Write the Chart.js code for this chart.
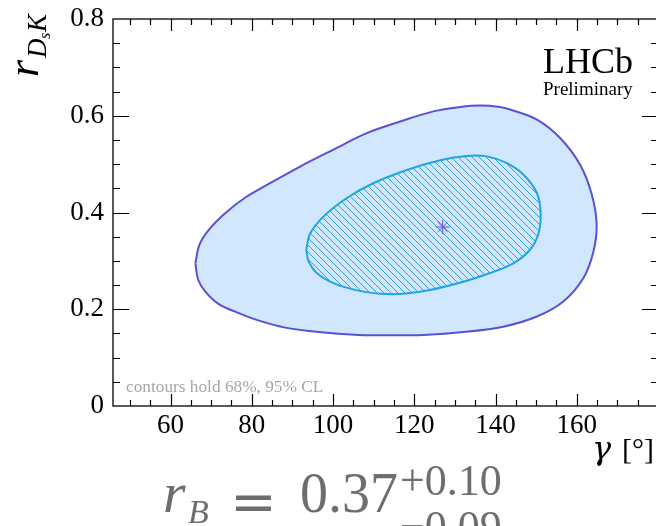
<!DOCTYPE html>
<html>
<head>
<meta charset="utf-8">
<script src="https://cdn.jsdelivr.net/npm/chart.js@4.4.1/dist/chart.umd.min.js"></script>
<style>
  html, body { margin: 0; padding: 0; background: #fff; overflow: hidden; }
  #wrap { position: relative; width: 656px; height: 526px; overflow: hidden; }
  #wrap canvas { display: block; }
</style>
</head>
<body>
<div id="wrap"><canvas id="contourChart" width="672" height="526" style="width:672px;height:526px"></canvas></div>
<script>
// 95% CL contour (gamma in degrees, r_{DsK})
const outerGamma = [66.1, 67.1, 69.4, 73.5, 78.4, 83.3, 91.9, 100.1, 108.3, 116.5, 124.7, 131.3, 136.2,
  141.1, 143.6, 150.2, 155.9, 160.8, 163.7, 164.9, 164.1, 161.6, 156.7, 150.2, 141.9, 132.1, 122.3,
  114.1, 106.3, 96.4, 88.2, 80.8, 76.2, 71.8, 68.5, 66.8, 66.1];
const outerR = [0.295, 0.333, 0.364, 0.399, 0.431, 0.455, 0.495, 0.530, 0.564, 0.588, 0.609, 0.618, 0.621,
  0.618, 0.613, 0.592, 0.554, 0.499, 0.437, 0.375, 0.319, 0.264, 0.216, 0.185, 0.164, 0.153, 0.147,
  0.146, 0.147, 0.153, 0.162, 0.179, 0.194, 0.211, 0.237, 0.261, 0.295];

// 68% CL contour
const innerGamma = [93.4, 94.4, 97.7, 103.4, 110.0, 118.2, 126.4, 132.9, 137.9, 142.8, 146.9, 150.2, 151.1,
  150.6, 148.5, 144.4, 138.7, 132.1, 123.9, 117.3, 111.6, 105.9, 100.1, 96.0, 94.0, 93.4];
const innerR = [0.323, 0.357, 0.392, 0.430, 0.461, 0.488, 0.508, 0.517, 0.516, 0.502, 0.478, 0.440, 0.399,
  0.357, 0.323, 0.295, 0.275, 0.257, 0.240, 0.232, 0.232, 0.239, 0.254, 0.275, 0.299, 0.323];

// best fit point
const bestGamma = [127];
const bestR = [0.37];

const xMin = 45.83, xMax = 180;
const yMin = 0, yMax = 0.8;

const toPoints = (xs, ys) => xs.map((x, i) => ({ x, y: ys[i] }));

// =====================
// Hatch pattern for the 68% region
// =====================
const makeHatch = (size, bg, fg) => {
  const c = document.createElement('canvas');
  c.width = size;
  c.height = size;
  const g = c.getContext('2d');
  g.fillStyle = bg;
  g.fillRect(0, 0, size, size);
  g.strokeStyle = fg;
  g.lineWidth = 1;
  for (const k of [-size, 0, size]) {
    g.beginPath();
    g.moveTo(k, 0);
    g.lineTo(k + size, size);
    g.stroke();
  }
  return g.createPattern(c, 'repeat');
};

const fillBlue = '#d1e7fd';
const hatch = makeHatch(7, fillBlue, '#2ba2db');

// =====================
// Frame, inward ticks and text
// =====================
const frameTicks = {
  id: 'frameTicks',
  afterDraw(chart) {
    const { ctx, chartArea: a, scales: { x, y } } = chart;
    ctx.save();
    ctx.strokeStyle = '#000';
    ctx.lineWidth = 1.3;
    ctx.strokeRect(a.left, a.top, a.right - a.left, a.bottom - a.top);

    ctx.lineWidth = 1.2;
    ctx.beginPath();
    for (let v = 50; v <= 180; v += 5) {
      const px = Math.round(x.getPixelForValue(v)) + 0.5;
      const len = v % 20 === 0 ? 12 : 6;
      ctx.moveTo(px, a.bottom); ctx.lineTo(px, a.bottom - len);
      ctx.moveTo(px, a.top); ctx.lineTo(px, a.top + len);
    }
    for (let i = 1; i < 16; i++) {
      const v = i * 0.05;
      const py = Math.round(y.getPixelForValue(v)) + 0.5;
      const len = i % 4 === 0 ? 16 : 7;
      ctx.moveTo(a.left, py); ctx.lineTo(a.left + len, py);
      ctx.moveTo(a.right, py); ctx.lineTo(a.right - len, py);
    }
    ctx.stroke();

    // experiment label
    ctx.fillStyle = '#000';
    ctx.textBaseline = 'alphabetic';
    ctx.textAlign = 'left';
    ctx.font = '36px "Liberation Serif"';
    ctx.fillText('LHCb', 543, 73);
    ctx.font = '19px "Liberation Serif"';
    ctx.fillText('Preliminary', 543, 95);

    // note in the lower left corner
    ctx.fillStyle = '#a6a6a6';
    ctx.font = '17.3px "Liberation Serif"';
    ctx.fillText('contours hold 68%, 95% CL', 126, 392);

    // x axis title
    ctx.fillStyle = '#000';
    ctx.font = 'italic 32px "DejaVu Serif"';
    ctx.fillText('\u03b3', 592, 459);
    ctx.font = '30px "Liberation Serif"';
    ctx.fillText('[\u00b0]', 622, 459);

    // y axis title, rotated
    ctx.save();
    ctx.translate(38, 77);
    ctx.rotate(-Math.PI / 2);
    ctx.font = 'italic 44px "Liberation Serif"';
    ctx.fillText('r', 0, 0);
    ctx.font = 'italic 27px "Liberation Serif"';
    ctx.fillText('D', 19, 8);
    ctx.font = 'italic 16px "Liberation Serif"';
    ctx.fillText('s', 38, 12);
    ctx.font = 'italic 27px "Liberation Serif"';
    ctx.fillText('K', 45, 8);
    ctx.restore();

    // result underneath the plot
    ctx.fillStyle = '#6e6e6e';
    ctx.font = 'italic 58px "Liberation Serif"';
    ctx.fillText('r', 163, 512);
    ctx.font = 'italic 34px "Liberation Serif"';
    ctx.fillText('B', 188, 523);
    ctx.font = '56px "DejaVu Serif"';
    ctx.fillText('=', 230, 521);
    ctx.font = '56px "Liberation Serif"';
    ctx.fillText('0.37', 300, 512);
    ctx.font = '44px "Liberation Serif"';
    ctx.fillText('+0.10', 400, 495);
    ctx.fillText('\u22120.09', 400, 541);
    ctx.restore();
  }
};

new Chart(document.getElementById('contourChart'), {
  type: 'line',
  data: {
    datasets: [
      {
        label: 'best fit',
        data: toPoints(bestGamma, bestR),
        showLine: false,
        pointStyle: 'star',
        pointRadius: 7,
        borderColor: '#6a4fd8',
        borderWidth: 1,
        order: 0
      },
      {
        label: '68% CL',
        data: toPoints(innerGamma, innerR),
        borderColor: '#1fa6e0',
        borderWidth: 2,
        backgroundColor: hatch,
        fill: 'shape',
        tension: 0.35,
        pointRadius: 0,
        order: 1
      },
      {
        label: '95% CL',
        data: toPoints(outerGamma, outerR),
        borderColor: '#5a50d6',
        borderWidth: 2,
        backgroundColor: fillBlue,
        fill: 'shape',
        tension: 0.35,
        pointRadius: 0,
        order: 2
      }
    ]
  },
  options: {
    responsive: false,
    animation: false,
    layout: { padding: { left: 0, right: 14, top: 19, bottom: 0 } },
    plugins: {
      legend: { display: false },
      tooltip: { enabled: false }
    },
    scales: {
      x: {
        type: 'linear',
        min: xMin,
        max: xMax,
        grid: { display: false, drawTicks: false },
        border: { display: false },
        afterFit: (s) => { s.height = 120; s.paddingLeft = 0; s.paddingRight = 0; },
        ticks: {
          stepSize: 20,
          includeBounds: false,
          padding: 4,
          color: '#000',
          font: { family: 'Liberation Serif', size: 27 },
          callback: (v) => (v < 170 ? v : '')
        }
      },
      y: {
        type: 'linear',
        min: yMin,
        max: yMax,
        grid: { display: false, drawTicks: false },
        border: { display: false },
        afterFit: (s) => { s.width = 113; s.paddingTop = 0; s.paddingBottom = 0; },
        ticks: {
          stepSize: 0.2,
          padding: 9,
          color: '#000',
          font: { family: 'Liberation Serif', size: 27 },
          callback: (v) => +v.toFixed(1)
        }
      }
    }
  },
  plugins: [frameTicks]
});
</script>
</body>
</html>
